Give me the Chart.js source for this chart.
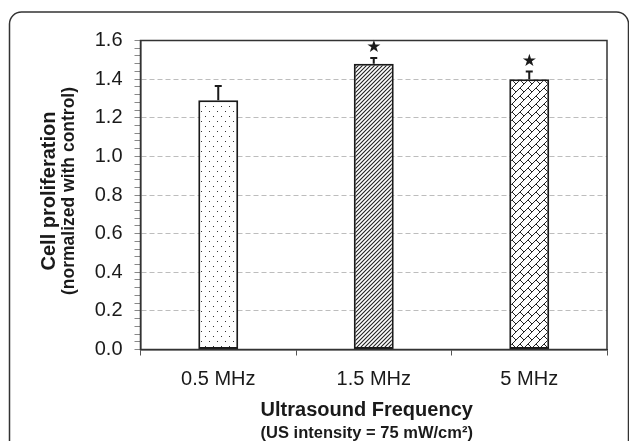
<!DOCTYPE html>
<html><head><meta charset="utf-8">
<script src="https://cdn.jsdelivr.net/npm/chart.js@4"></script>
<style>html,body{margin:0;padding:0;background:#fff;overflow:hidden}canvas{display:block}</style>
</head><body>
<canvas id="c" width="629" height="441"></canvas>
<script>
// ---- data ----
const categories = ['0.5 MHz', '1.5 MHz', '5 MHz'];
const proliferation = [1.29, 1.48, 1.40];
const errorUpper = [0.075, 0.03, 0.04];
const significance = ['', '★', '★'];
const yMajorTicks = [0, 0.2, 0.4, 0.6, 0.8, 1.0, 1.2, 1.4, 1.6];
const yMinorPerMajor = 5;
const yTitleLines = ['Cell proliferation', '(normalized with control)'];
const xTitleLines = ['Ultrasound Frequency', '(US intensity = 75 mW/cm²)'];

// ---- patterns ----
function makeTile(w, h, draw) {
  const cv = document.createElement('canvas');
  cv.width = w; cv.height = h;
  const c = cv.getContext('2d');
  c.fillStyle = '#fff'; c.fillRect(0, 0, w, h);
  draw(c);
  return document.getElementById('c').getContext('2d').createPattern(cv, 'repeat');
}
const dotPattern = makeTile(8, 10, c => {
  c.fillStyle = '#333';
  c.fillRect(1, 1, 1, 1);
  c.fillRect(5, 6, 1, 1);
});
const hatchPattern = makeTile(4, 4, c => {
  c.strokeStyle = '#222'; c.lineWidth = 1.1;
  c.beginPath();
  c.moveTo(-1, 5); c.lineTo(5, -1);
  c.moveTo(-1, 1); c.lineTo(1, -1);
  c.moveTo(3, 5); c.lineTo(5, 3);
  c.stroke();
});
const brickPattern = makeTile(16, 16, c => {
  c.strokeStyle = '#222'; c.lineWidth = 1;
  c.beginPath();
  for (let s = -32; s <= 64; s += 8) { c.moveTo(-16, s + 16); c.lineTo(32, s - 32); }
  for (let k = -4; k <= 8; k++) {
    const s0 = 8 * k, s1 = s0 + 8;
    const off = (((k % 2) + 2) % 2) ? 8 : 0;
    for (let m = -3; m <= 3; m++) {
      const d = off + 16 * m;
      c.moveTo((s0 + d) / 2, (s0 - d) / 2);
      c.lineTo((s1 + d) / 2, (s1 - d) / 2);
    }
  }
  c.stroke();
});

const FONT = '"Liberation Sans", Arial, sans-serif';
const majorStep = yMajorTicks[1] - yMajorTicks[0];
const isMajor = v => Math.abs(v / majorStep - Math.round(v / majorStep)) < 1e-6;

const decor = {
  id: 'decor',
  beforeDraw(chart) {
    const ctx = chart.ctx;
    ctx.save();
    ctx.fillStyle = '#fff';
    ctx.fillRect(0, 0, chart.width, chart.height);
    ctx.strokeStyle = '#333'; ctx.lineWidth = 1.5;
    ctx.beginPath();
    ctx.roundRect(9.5, 12, 619, 470, 12);
    ctx.stroke();
    ctx.restore();
  },
  afterDatasetsDraw(chart) {
    const ctx = chart.ctx, ys = chart.scales.y;
    const meta = chart.getDatasetMeta(0);
    ctx.save();
    meta.data.forEach((bar, i) => {
      const x = bar.x, yTop = ys.getPixelForValue(proliferation[i]);
      const yErr = ys.getPixelForValue(proliferation[i] + errorUpper[i]);
      ctx.strokeStyle = '#1a1a1a'; ctx.lineWidth = 2;
      ctx.beginPath();
      ctx.moveTo(x, yTop); ctx.lineTo(x, yErr);
      ctx.moveTo(x - 3.5, yErr); ctx.lineTo(x + 3.5, yErr);
      ctx.stroke();
      if (significance[i]) {
        ctx.fillStyle = '#1a1a1a';
        ctx.font = '17px "DejaVu Sans"';
        ctx.textAlign = 'center'; ctx.textBaseline = 'middle';
        ctx.fillText(significance[i], x, yErr - 10);
      }
    });
    ctx.restore();
  },
  afterDraw(chart) {
    const ctx = chart.ctx, a = chart.chartArea;
    ctx.save();
    ctx.strokeStyle = '#333'; ctx.lineWidth = 1.5;
    ctx.strokeRect(a.left, a.top, a.right - a.left, a.bottom - a.top);
    ctx.fillStyle = '#1a1a1a';
    ctx.textAlign = 'center'; ctx.textBaseline = 'alphabetic';
    // x title
    const cx = (a.left + a.right) / 2 - 7;
    ctx.font = 'bold 20px ' + FONT;
    ctx.fillText(xTitleLines[0], cx, 415.5);
    ctx.font = 'bold 16.5px ' + FONT;
    ctx.fillText(xTitleLines[1], cx, 437.5);
    // y title
    const cy = (a.top + a.bottom) / 2 - 4;
    ctx.translate(54.5, cy); ctx.rotate(-Math.PI / 2);
    ctx.font = 'bold 20px ' + FONT;
    ctx.fillText(yTitleLines[0], 0, 0);
    ctx.font = 'bold 17.5px ' + FONT;
    ctx.fillText(yTitleLines[1], 0, 19);
    ctx.restore();
  }
};

new Chart(document.getElementById('c'), {
  type: 'bar',
  data: {
    labels: categories,
    datasets: [{
      data: proliferation,
      backgroundColor: [dotPattern, hatchPattern, brickPattern],
      borderColor: '#1a1a1a',
      borderWidth: 2,
      borderSkipped: false,
      categoryPercentage: 1,
      barPercentage: 0.257
    }]
  },
  options: {
    responsive: false,
    animation: false,
    devicePixelRatio: 1,
    layout: { padding: { top: 40.5, right: 22, left: 0, bottom: 0 } },
    plugins: { legend: { display: false }, tooltip: { enabled: false } },
    scales: {
      x: {
        grid: { display: true, drawOnChartArea: false, drawTicks: true, tickLength: 6, color: '#555', tickColor: '#555', offset: true },
        border: { display: true, color: '#333', width: 1.5 },
        ticks: { font: { family: FONT, size: 20 }, color: '#1a1a1a', padding: 12, maxRotation: 0, autoSkip: false },
        afterFit(s) { s.height = 91.5; }
      },
      y: {
        min: yMajorTicks[0],
        max: yMajorTicks[yMajorTicks.length - 1],
        afterBuildTicks(s) {
          const t = [];
          for (let i = 0; i < yMajorTicks.length - 1; i++) {
            const a = yMajorTicks[i], b = yMajorTicks[i + 1];
            for (let j = 0; j < yMinorPerMajor; j++) t.push({ value: a + (b - a) * j / yMinorPerMajor });
          }
          t.push({ value: yMajorTicks[yMajorTicks.length - 1] });
          s.ticks = t;
        },
        afterFit(s) { s.width = 140.5; },
        ticks: {
          autoSkip: false, padding: 12, color: '#1a1a1a',
          font: { family: FONT, size: 20 },
          callback(v) { return isMajor(v) ? v.toFixed(1) : ''; }
        },
        grid: {
          color: ctx => (ctx.tick && isMajor(ctx.tick.value) && ctx.tick.value > 0.001 && ctx.tick.value < 1.599) ? '#bdbdbd' : 'rgba(0,0,0,0)',
          tickColor: '#888', tickLength: 6, tickBorderDash: [], lineWidth: 1
        },
        border: { display: true, color: '#333', width: 1.5, dash: [5, 3] }
      }
    }
  },
  plugins: [decor]
});
</script>
</body></html>
